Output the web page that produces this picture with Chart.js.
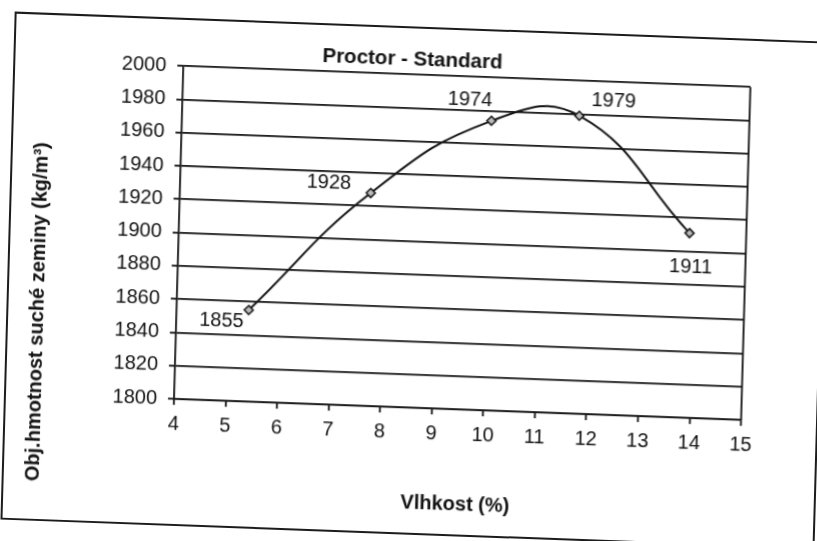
<!DOCTYPE html>
<html><head><meta charset="utf-8">
<script src="https://cdn.jsdelivr.net/npm/chart.js@4.4.1/dist/chart.umd.min.js"></script>
<style>
html,body{margin:0;padding:0;background:#fff;overflow:hidden;width:817px;height:541px}
#wrap{position:absolute;left:0;top:0;width:840px;height:560px;transform-origin:0 0;transform:matrix(1,0.037,-0.028,1,0,0)}
#frame{position:absolute;left:15px;top:10.5px;width:814px;height:508px;border:2px solid #1c1c1c;box-sizing:border-box}
canvas{position:absolute;left:0;top:0}
</style></head><body>
<div id="wrap"><div id="frame"></div><canvas id="c" width="840" height="560"></canvas></div>
<script>
// ---- data ----
const chartTitle = 'Proctor - Standard';
const xAxisTitle = 'Vlhkost (%)';
const yAxisTitle = 'Obj.hmotnost suché zeminy (kg/m³)';
const moisture = [5.4, 7.7, 10.0, 11.7, 13.9];
const density = [1855, 1928, 1974, 1979, 1911];
const pointLabels = ['1855', '1928', '1974', '1979', '1911'];
const xTickValues = [4, 5, 6, 7, 8, 9, 10, 11, 12, 13, 14, 15];
const yTickValues = [1800, 1820, 1840, 1860, 1880, 1900, 1920, 1940, 1960, 1980, 2000];

// ---- style ----
const INK = '#111111';
const FONT = "'Liberation Sans', Arial, sans-serif";
const labelOffsets = [[-27, 12], [-42, -9], [-22, -20], [34, -16], [2, 34]];

const points = moisture.map((x, i) => ({x: x, y: density[i]}));

const plotFrame = {
  id: 'plotFrame',
  beforeDatasetsDraw(chart) {
    const a = chart.chartArea, ctx = chart.ctx;
    ctx.save();
    ctx.strokeStyle = INK; ctx.lineWidth = 1.8;
    ctx.beginPath(); ctx.moveTo(a.right, a.top); ctx.lineTo(a.right, a.bottom); ctx.stroke();
    ctx.restore();
  }
};
const valueLabels = {
  id: 'valueLabels',
  afterDatasetsDraw(chart) {
    const ctx = chart.ctx, meta = chart.getDatasetMeta(0);
    ctx.save();
    ctx.font = '20px ' + FONT; ctx.fillStyle = INK;
    ctx.textAlign = 'center'; ctx.textBaseline = 'middle';
    meta.data.forEach((p, i) => {
      const o = labelOffsets[i];
      ctx.fillText(pointLabels[i], p.x + o[0], p.y + o[1]);
    });
    ctx.restore();
  }
};
const yTitle = {
  id: 'yTitle',
  afterDraw(chart) {
    const ctx = chart.ctx;
    ctx.save();
    ctx.translate(46, 310); ctx.rotate(-Math.PI / 2);
    ctx.font = 'bold 20px ' + FONT; ctx.fillStyle = INK;
    ctx.textAlign = 'center'; ctx.textBaseline = 'middle';
    ctx.fillText(yAxisTitle, 0, 0);
    ctx.restore();
  }
};

new Chart(document.getElementById('c'), {
  type: 'line',
  data: {
    datasets: [{
      data: points,
      borderColor: INK, borderWidth: 2,
      tension: 0.45,
      pointStyle: 'rectRot', pointRadius: 4.5,
      pointBackgroundColor: '#bbbbbb', pointBorderColor: INK, pointBorderWidth: 1.5,
      fill: false
    }]
  },
  options: {
    responsive: false, animation: false, devicePixelRatio: 1,
    layout: {padding: {left: 0, right: 12.6, top: 0, bottom: 56.5}},
    plugins: {
      legend: {display: false}, tooltip: {enabled: false},
      title: {display: true, text: chartTitle, color: INK,
        font: {family: FONT, size: 20.5, weight: 'bold'}, padding: {top: 32.5, bottom: 2.2}}
    },
    scales: {
      x: {
        type: 'linear', min: xTickValues[0], max: xTickValues[xTickValues.length - 1],
        afterBuildTicks: s => { s.ticks = xTickValues.map(v => ({value: v})); },
        afterFit: s => { s.height = 111.5; },
        grid: {drawOnChartArea: false, drawTicks: true, tickLength: 6, color: INK, lineWidth: 1.8},
        border: {display: true, color: INK, width: 1.8},
        ticks: {color: INK, padding: 7, font: {family: FONT, size: 20}, callback: v => String(v)},
        title: {display: true, text: xAxisTitle, color: INK, padding: {top: 0, bottom: 4},
          font: {family: FONT, size: 20, weight: 'bold'}}
      },
      y: {
        type: 'linear', min: yTickValues[0], max: yTickValues[yTickValues.length - 1],
        afterBuildTicks: s => { s.ticks = yTickValues.map(v => ({value: v})); },
        afterFit: s => { s.width = 185; },
        grid: {drawOnChartArea: true, drawTicks: true, tickLength: 6, color: INK, lineWidth: 1.8},
        border: {display: true, color: INK, width: 1.8},
        ticks: {color: INK, padding: 11, font: {family: FONT, size: 20}, callback: v => String(v)}
      },
      yRight: {
        type: 'linear', position: 'right', display: true,
        grid: {display: false}, border: {display: false}, ticks: {display: false},
        afterFit: s => { s.width = 75.4; }
      }
    }
  },
  plugins: [plotFrame, valueLabels, yTitle]
});
</script>
</body></html>
